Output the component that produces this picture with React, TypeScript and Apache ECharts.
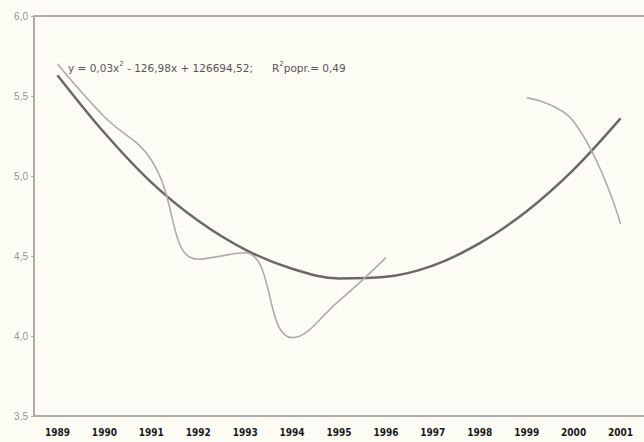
import React, { useEffect, useRef } from "react";
import * as echarts from "echarts";

const years = ["1989","1990","1991","1992","1993","1994","1995","1996","1997","1998","1999","2000","2001"];
const observed: (number | null)[] = [5.70, 5.37, 5.10, 4.48, 4.52, 3.99, 4.22, 4.49, null, null, 5.49, 5.34, 4.70];
const trend: number[] = [5.63, 5.27, 4.96, 4.72, 4.54, 4.42, 4.36, 4.37, 4.44, 4.58, 4.78, 5.04, 5.36];
const yTicks = { min: 3.5, max: 6.0, interval: 0.5 };
const eqParts = ["y = 0,03x", "2", " - 126,98x + 126694,52;"];
const r2Parts = ["R", "2", "popr.= 0,49"];

export default function App() {
  const ref = useRef<HTMLDivElement>(null);
  useEffect(() => {
    if (!ref.current) return;
    const chart = echarts.init(ref.current, null, { renderer: "svg" });
    const axisColor = "#b3abab";
    const rich = {
      n: { fontSize: 10.5, fontFamily: "DejaVu Sans", fill: "#5a5454", color: "#5a5454", lineHeight: 13, verticalAlign: "bottom" },
      s: { fontSize: 7, fontFamily: "DejaVu Sans", fill: "#5a5454", color: "#5a5454", lineHeight: 13, verticalAlign: "top" },
    };
    chart.setOption({
      animation: false,
      backgroundColor: "#fcfcf4",
      grid: { left: 34, right: -4, top: 16, bottom: 26 },
      xAxis: [
        {
          type: "category",
          data: years,
          boundaryGap: true,
          axisLine: { lineStyle: { color: axisColor, width: 2 } },
          axisTick: { show: false },
          axisLabel: {
            color: "#1a1a1a",
            fontFamily: "DejaVu Sans Condensed, Liberation Sans Narrow, Arial",
            fontWeight: "bold",
            fontSize: 10,
            margin: 11,
          },
        },
        {
          type: "category",
          data: years,
          position: "top",
          axisLine: { lineStyle: { color: "#b7a9a9", width: 2 } },
          axisTick: { show: false },
          axisLabel: { show: false },
        },
      ],
      yAxis: {
        type: "value",
        min: yTicks.min,
        max: yTicks.max,
        interval: yTicks.interval,
        axisLine: { show: true, lineStyle: { color: axisColor, width: 2 } },
        axisTick: { show: true, length: 3, lineStyle: { color: axisColor } },
        splitLine: { show: false },
        axisLabel: {
          color: "#9a9292",
          fontFamily: "Liberation Sans, Arial",
          fontSize: 10,
          margin: 6,
          formatter: (v: number) => v.toFixed(1).replace(".", ","),
        },
      },
      series: [
        {
          type: "line",
          data: trend,
          smooth: 0.35,
          symbol: "none",
          lineStyle: { color: "#706666", width: 2.5 },
          z: 2,
        },
        {
          type: "line",
          data: observed,
          smooth: 0.45,
          connectNulls: false,
          symbol: "none",
          lineStyle: { color: "#b2aaaa", width: 1.6 },
          z: 3,
        },
      ],
      graphic: [
        {
          type: "text",
          left: 68,
          top: 60,
          style: {
            text: `{n|${eqParts[0]}}{s|${eqParts[1]}}{n|${eqParts[2]}}`,
            rich,
          },
          z: 10,
        },
        {
          type: "text",
          left: 272,
          top: 60,
          style: {
            text: `{n|${r2Parts[0]}}{s|${r2Parts[1]}}{n|${r2Parts[2]}}`,
            rich,
          },
          z: 10,
        },
      ],
    });
    return () => chart.dispose();
  }, []);
  return <div ref={ref} style={{ width: 644, height: 442, position: "absolute", left: 0, top: 0 }} />;
}
